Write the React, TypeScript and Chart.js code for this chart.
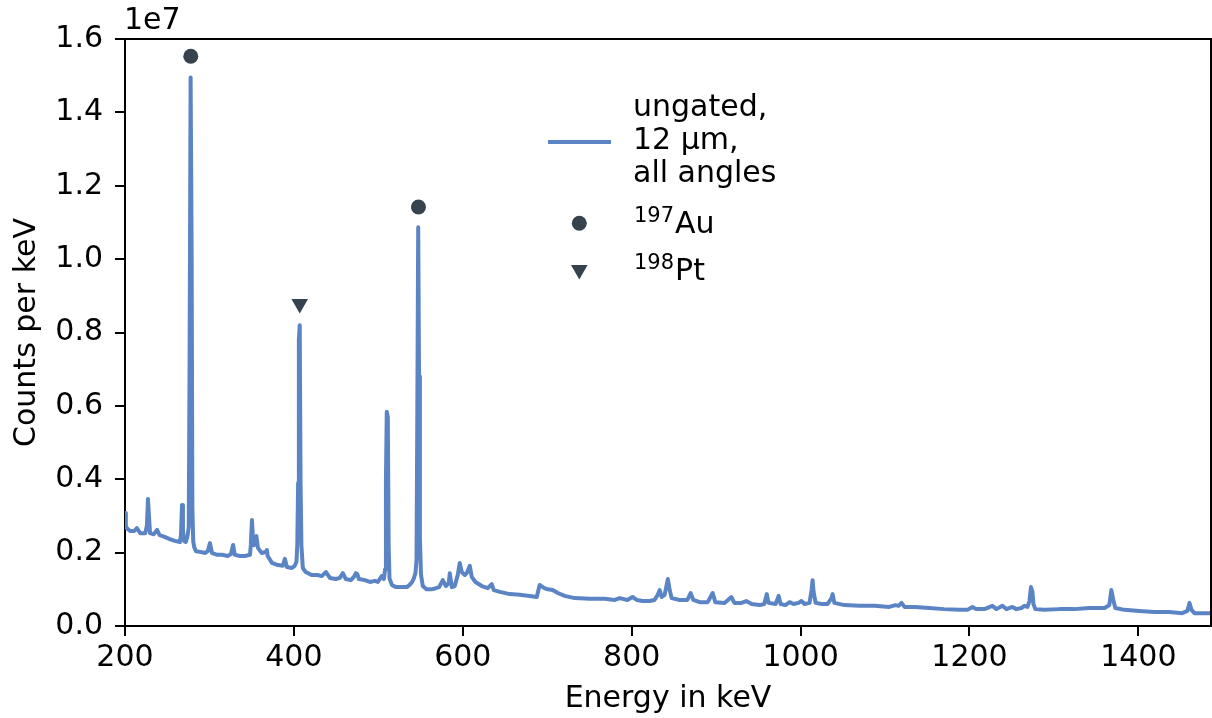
import React, { useEffect, useRef } from "react";
import { Chart, registerables } from "chart.js";

Chart.register(...registerables);

// Energy (keV) of each spectrum sample
const energy = [
  200, 201, 202, 206, 211, 214, 218, 224, 226, 227.2, 228.4, 229.6, 234, 238, 241, 247, 253, 259, 265,
  266.3, 267.5, 268.6, 269.8, 272, 274, 275.5, 276.5, 277.7, 278.9, 279.8, 280.8, 282, 284, 289, 295,
  298, 300.6, 303, 309, 315, 322, 325.4, 328, 330, 336, 342, 348, 349, 350.3, 351.5, 352.7, 353.9,
  355.6, 357.4, 362, 366.9, 368, 369, 374, 381, 387, 389.3, 391.7, 397.6, 401, 403, 404, 405, 405.9,
  406.9, 407.9, 408.9, 410.6, 414, 421, 428, 433, 438, 442.6, 449.7, 454.4, 458, 461.5, 467.4, 471,
  473.4, 475, 477, 484, 490, 496, 499.4, 504, 506.5, 508, 509, 510, 511.2, 512.2, 513.2, 516, 520.7,
  527.8, 533.7, 537, 540, 542, 544, 545.2, 546.2, 547.2, 548.2, 549.2, 550.5, 552.6, 557, 563, 568,
  572, 576.3, 580, 583.4, 584.6, 587, 590.5, 594, 596.4, 598.8, 602.4, 604.7, 608.3, 610.6, 615,
  622.5, 629.6, 634.3, 636.7, 643.8, 655.6, 667.4, 679.3, 687.6, 691, 696, 700.6, 706.5, 712.5,
  720.7, 732.5, 750.3, 768, 780, 785.8, 795, 801, 806, 813, 821, 827, 830.8, 833.2, 835.5, 839,
  842.8, 845, 847.3, 856.8, 866, 869.8, 873, 880.5, 890, 895.9, 899, 910, 918, 921.6, 930, 935.7,
  942, 951.5, 957, 960, 962, 970.4, 974, 976.3, 982, 987, 991.7, 997.6, 1001, 1004.7, 1010.6, 1013,
  1014.2, 1015.4, 1017.8, 1025, 1032, 1036.7, 1037.9, 1040, 1052, 1070, 1087.5, 1105, 1112.4, 1116,
  1119.5, 1123, 1135, 1152.6, 1170, 1188, 1197.6, 1203.5, 1208, 1217.7, 1227, 1232, 1239, 1243.8,
  1250.8, 1255.6, 1261.5, 1265, 1268.7, 1271, 1272.8, 1274.6, 1275.7, 1278, 1288.7, 1306.5, 1324,
  1342, 1360, 1365.6, 1368, 1370.3, 1372.7, 1383.4, 1401, 1418.9, 1436.7, 1452, 1458, 1460.5, 1462.9,
  1466.4, 1478, 1486,
];

// Counts per keV, in units of 1e6
const countsE6 = [
  3.08, 2.75, 2.67, 2.59, 2.59, 2.67, 2.53, 2.53, 2.75, 3.46, 3.0, 2.53, 2.5, 2.62, 2.48, 2.43, 2.37, 2.32, 2.29,
  2.48, 3.3, 2.62, 2.32, 2.29, 2.45, 2.7, 7.3, 14.95, 10.2, 3.2, 2.3, 2.15, 2.04, 2.02, 1.99,
  2.04, 2.26, 1.99, 1.94, 1.94, 1.91, 1.96, 2.21, 1.94, 1.91, 1.91, 1.94, 2.21, 2.89, 2.43, 2.2, 2.4,
  2.45, 2.13, 1.99, 2.02, 2.07, 1.91, 1.72, 1.66, 1.64, 1.83, 1.61, 1.58, 1.64, 1.75, 2.2, 3.9, 7.8,
  8.2, 3.9, 2.2, 1.58, 1.47, 1.39, 1.39, 1.36, 1.47, 1.31, 1.28, 1.31, 1.44, 1.28, 1.25, 1.34,
  1.44, 1.42, 1.28, 1.25, 1.2, 1.23, 1.2, 1.36, 1.28, 1.55, 4.0, 5.84, 5.7, 2.2, 1.3, 1.12, 1.06,
  1.06, 1.06, 1.12, 1.2, 1.3, 1.45, 1.8, 6.0, 10.87, 6.8, 2.4, 1.4, 1.09, 1.0, 1.0, 1.03,
  1.06, 1.25, 1.09, 1.17, 1.44, 1.06, 1.09, 1.39, 1.72, 1.47, 1.39, 1.44, 1.64, 1.34, 1.2,
  1.09, 1.03, 1.14, 0.98, 0.93, 0.87, 0.85, 0.82, 0.79, 1.12, 1.04, 1.0, 0.98, 0.9,
  0.82, 0.76, 0.74, 0.74, 0.71, 0.76, 0.71, 0.79, 0.71, 0.68, 0.68, 0.71, 0.85, 0.98, 0.79, 0.85,
  1.28, 0.98, 0.76, 0.71, 0.71, 0.9, 0.71, 0.65, 0.65, 0.9, 0.65, 0.63, 0.79, 0.63, 0.63, 0.68,
  0.6, 0.57, 0.6, 0.87, 0.63, 0.6, 0.82, 0.6, 0.57, 0.65, 0.6, 0.63, 0.68, 0.6, 0.63, 0.98,
  1.25, 0.93, 0.63, 0.6, 0.6, 0.76, 0.87, 0.63, 0.57, 0.55, 0.55, 0.52, 0.57, 0.55,
  0.63, 0.52, 0.52, 0.49, 0.46, 0.44, 0.44, 0.52, 0.46, 0.46, 0.55, 0.46, 0.55, 0.46,
  0.52, 0.46, 0.49, 0.55, 0.52, 0.68, 1.06, 0.93, 0.6, 0.46, 0.44, 0.46, 0.46,
  0.49, 0.49, 0.57, 0.98, 0.71, 0.49, 0.44, 0.41, 0.38, 0.38, 0.35, 0.41, 0.63, 0.44,
  0.35, 0.35, 0.35,
];

// Marker positions for the labelled peaks
const auEnergy = [277.9, 547.5];
const auMarkE6 = [15.53, 11.42];
const ptEnergy = [406.9];
const ptMarkE6 = [8.78];

const xTicks = [200, 400, 600, 800, 1000, 1200, 1400];
const yTicks = [0, 2e6, 4e6, 6e6, 8e6, 10e6, 12e6, 14e6, 16e6];

const LINE = "#5b84c5";
const MARK = "#36434f";
const FONT = "DejaVu Sans";
const FS = 30;

const framePlugin = {
  id: "frameAndLegend",
  afterDraw(chart: any) {
    const { ctx, chartArea } = chart;
    ctx.save();
    // top and right spines
    ctx.strokeStyle = "#000";
    ctx.lineWidth = 2;
    ctx.beginPath();
    ctx.moveTo(chartArea.left, chartArea.top);
    ctx.lineTo(chartArea.right, chartArea.top);
    ctx.lineTo(chartArea.right, chartArea.bottom);
    ctx.stroke();

    // offset text
    ctx.fillStyle = "#000";
    ctx.font = `${FS}px "${FONT}"`;
    ctx.textAlign = "left";
    ctx.textBaseline = "alphabetic";
    ctx.fillText("1e7", 124, 29);

    // legend
    ctx.strokeStyle = LINE;
    ctx.lineWidth = 4;
    ctx.beginPath();
    ctx.moveTo(548, 142);
    ctx.lineTo(611, 142);
    ctx.stroke();

    ctx.fillStyle = "#000";
    ctx.font = `${FS}px "${FONT}"`;
    ctx.fillText("ungated,", 633, 116);
    ctx.fillText("12 µm,", 633, 149);
    ctx.fillText("all angles", 633, 182);

    // 197Au
    ctx.fillStyle = MARK;
    ctx.beginPath();
    ctx.arc(579.3, 223.3, 7.5, 0, Math.PI * 2);
    ctx.fill();
    ctx.fillStyle = "#000";
    ctx.font = `21px "${FONT}"`;
    ctx.fillText("197", 634, 222);
    let w = ctx.measureText("197").width;
    ctx.font = `${FS}px "${FONT}"`;
    ctx.fillText("Au", 634 + w + 1, 233);

    // 198Pt
    ctx.fillStyle = MARK;
    ctx.beginPath();
    ctx.moveTo(571, 265);
    ctx.lineTo(587.6, 265);
    ctx.lineTo(579.3, 279.5);
    ctx.closePath();
    ctx.fill();
    ctx.fillStyle = "#000";
    ctx.font = `21px "${FONT}"`;
    ctx.fillText("198", 634, 269);
    w = ctx.measureText("198").width;
    ctx.font = `${FS}px "${FONT}"`;
    ctx.fillText("Pt", 634 + w + 1, 280);
    ctx.restore();
  },
};

export default function App() {
  const ref = useRef<HTMLCanvasElement | null>(null);
  useEffect(() => {
    if (!ref.current) return;
    const spectrum = energy.map((e, i) => ({ x: e, y: countsE6[i] * 1e6 }));
    const au = auEnergy.map((e, i) => ({ x: e, y: auMarkE6[i] * 1e6 }));
    const pt = ptEnergy.map((e, i) => ({ x: e, y: ptMarkE6[i] * 1e6 }));
    const tickFont = { family: FONT, size: FS };
    const chart = new Chart(ref.current, {
      type: "scatter",
      data: {
        datasets: [
          {
            label: "ungated, 12 µm, all angles",
            data: spectrum,
            showLine: true,
            borderColor: LINE,
            backgroundColor: LINE,
            borderWidth: 4,
            borderJoinStyle: "round",
            pointRadius: 0,
            pointHoverRadius: 0,
            tension: 0,
            order: 2,
          },
          {
            label: "197Au",
            data: au,
            pointStyle: "circle",
            pointRadius: 7.5,
            backgroundColor: MARK,
            borderWidth: 0,
            order: 1,
          },
          {
            label: "198Pt",
            data: pt,
            pointStyle: "triangle",
            rotation: 180,
            pointRadius: 9.6,
            backgroundColor: MARK,
            borderWidth: 0,
            order: 1,
          },
        ],
      },
      options: {
        responsive: false,
        animation: false,
        events: [],
        layout: { autoPadding: false, padding: { top: 39, right: 1, left: 0, bottom: 0 } },
        plugins: { legend: { display: false }, tooltip: { enabled: false } },
        scales: {
          x: {
            type: "linear",
            min: 200,
            max: 1486,
            afterBuildTicks: (s: any) => {
              s.ticks = xTicks.map((v) => ({ value: v }));
            },
            afterFit: (s: any) => {
              s.height = 92;
              s.paddingLeft = 0;
              s.paddingRight = 0;
            },
            ticks: {
              font: tickFont,
              color: "#000",
              padding: 4,
              maxRotation: 0,
              callback: (v: any) => String(v),
            },
            grid: {
              drawOnChartArea: false,
              drawTicks: true,
              tickLength: 10,
              color: "#000",
              lineWidth: 2,
            },
            border: { display: true, color: "#000", width: 2 },
            title: {
              display: true,
              text: "Energy in keV",
              font: tickFont,
              color: "#000",
              padding: { top: 0, bottom: 1 },
            },
          },
          y: {
            type: "linear",
            min: 0,
            max: 16e6,
            afterBuildTicks: (s: any) => {
              s.ticks = yTicks.map((v) => ({ value: v }));
            },
            afterFit: (s: any) => {
              s.width = 125;
              s.paddingTop = 0;
              s.paddingBottom = 0;
            },
            ticks: {
              font: tickFont,
              color: "#000",
              padding: 12,
              callback: (v: any) => (Number(v) / 1e7).toFixed(1),
            },
            grid: {
              drawOnChartArea: false,
              drawTicks: true,
              tickLength: 10,
              color: "#000",
              lineWidth: 2,
            },
            border: { display: true, color: "#000", width: 2 },
            title: {
              display: true,
              text: "Counts per keV",
              font: tickFont,
              color: "#000",
              padding: { top: 9, bottom: 0 },
            },
          },
        },
      },
      plugins: [framePlugin],
    } as any);
    return () => chart.destroy();
  }, []);
  return (
    <div style={{ position: "absolute", left: 0, top: 0, width: 1212, height: 718, background: "#fff" }}>
      <canvas ref={ref} width={1212} height={718} style={{ display: "block", width: 1212, height: 718 }} />
    </div>
  );
}
